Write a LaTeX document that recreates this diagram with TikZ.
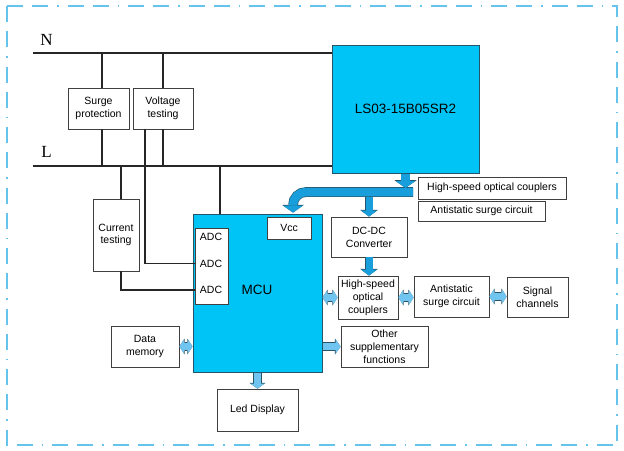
\documentclass[tikz,border=0pt]{standalone}
\usepackage{fontspec}
\setmainfont{Liberation Serif}
\setsansfont{Liberation Sans}
\usetikzlibrary{arrows.meta}
\definecolor{chipblue}{RGB}{0,196,245}
\definecolor{chipedge}{RGB}{38,84,104}
\definecolor{arrowblue}{RGB}{24,158,218}
\definecolor{pipeblue}{RGB}{112,196,240}
\definecolor{framecol}{RGB}{102,196,236}
\definecolor{wirecol}{RGB}{38,38,38}
\definecolor{boxcol}{RGB}{64,64,64}

\begin{document}
\begin{tikzpicture}[x=1pt,y=-1pt]
\useasboundingbox (0,0) rectangle (624,450);
\begin{scope}
	\tikzstyle{every node}=[align=center, inner sep=1pt, font=\sffamily\fontsize{10.5}{12.8}\selectfont]
	\tikzstyle{box}=[draw=boxcol, line width=0.8pt, fill=white]
	\tikzstyle{chip}=[draw=chipedge, line width=1pt, fill=chipblue, font=\sffamily\fontsize{13.5}{16}\selectfont]
	\tikzstyle{wire}=[line width=1.4pt, draw=wirecol]
	\tikzstyle{feed}=[line width=8.5pt, draw=arrowblue, -{Triangle[length=7pt,width=20pt,line width=0pt]}, preaction={draw=chipedge, line width=9.7pt, -{Triangle[length=7.8pt,width=22pt,line width=0pt]}}]
	\tikzstyle{drop}=[line width=7pt, draw=arrowblue, -{Triangle[length=6pt,width=16pt,line width=0pt]}, preaction={draw=chipedge, line width=8.2pt, -{Triangle[length=6.8pt,width=18pt,line width=0pt]}}]
	\tikzstyle{link}=[line width=7pt, draw=pipeblue, -{Triangle[length=5pt,width=14pt,line width=0pt]}, preaction={draw=chipedge, line width=8.2pt, -{Triangle[length=5.7pt,width=16pt,line width=0pt]}}]
	\tikzstyle{duplex}=[line width=7pt, draw=pipeblue, {Triangle[length=4.5pt,width=14pt,line width=0pt]}-{Triangle[length=4.5pt,width=14pt,line width=0pt]}, preaction={draw=chipedge, line width=8.2pt, {Triangle[length=5.2pt,width=16pt,line width=0pt]}-{Triangle[length=5.2pt,width=16pt,line width=0pt]}}]

	\draw[line width=2pt, draw=framecol, dash pattern=on 16pt off 9pt on 16pt off 9pt on 1.5pt off 9pt] (7,6) rectangle (617,445);

	\node[font=\rmfamily\fontsize{17}{19}\selectfont] (ntext) at (46.5,40) {N};
	\node[font=\rmfamily\fontsize{17}{19}\selectfont] (ltext) at (46.5,152) {L};
	\coordinate (n0) at (33,53);
	\coordinate (l0) at (33,166);

	\node[chip, minimum width=147pt, minimum height=128pt] (ls) at (405.5,109) {LS03-15B05SR2};
	\node[box, minimum width=61pt, minimum height=41pt] (surge) at (98.5,108.5) {Surge\\protection};
	\node[box, minimum width=60pt, minimum height=41pt] (volt) at (163,108.5) {Voltage\\testing};
	\node[box, minimum width=46pt, minimum height=72pt] (cur) at (116,235) {Current\\testing};

	\node[chip, minimum width=129pt, minimum height=158pt] (mcu) at (257.5,293) {};
	\node[font=\sffamily\fontsize{13.5}{16}\selectfont] (mcutext) at (257,289.5) {MCU};
	\node[box, minimum width=33pt, minimum height=76pt] (adcbox) at (211.5,266) {};
	\node (adc1) at (211,237) {ADC};
	\node (adc2) at (211,263.5) {ADC};
	\node (adc3) at (211,290) {ADC};
	\node[box, minimum width=44pt, minimum height=22pt] (vcc) at (289,228) {Vcc};

	\node[box, minimum width=68pt, minimum height=41pt] (mem) at (145,346.5) {Data\\memory};
	\node[box, minimum width=81pt, minimum height=42pt] (led) at (257.5,410) {Led Display};
	\node[box, minimum width=76pt, minimum height=40pt] (dcdc) at (369,237) {DC-DC\\Converter};
	\node[box, minimum width=60pt, minimum height=43pt] (opto) at (368,297.5) {High-speed\\optical\\couplers};
	\node[box, minimum width=75pt, minimum height=41pt] (esd) at (451.5,296.5) {Antistatic\\surge circuit};
	\node[box, minimum width=61pt, minimum height=40pt] (sig) at (537.5,297) {Signal\\channels};
	\node[box, minimum width=87pt, minimum height=41pt] (other) at (384.5,346.5) {Other\\supplementary\\functions};
	\node[box, minimum width=148pt, minimum height=22pt] (optotag) at (492,188) {High-speed optical couplers};
	\node[box, minimum width=127pt, minimum height=20pt] (esdtag) at (481.5,211) {Antistatic surge circuit};

	\draw[wire] (n0) -- (n0 -| ls.west);
	\draw[wire] (l0) -- (l0 -| ls.west);
	\draw[wire] ([xshift=3.5pt]surge.north) -- ([xshift=3.5pt]surge.north |- n0);
	\draw[wire] ([xshift=3.5pt]surge.south) -- ([xshift=3.5pt]surge.south |- l0);
	\draw[wire] (volt.north) -- (volt.north |- n0);
	\draw[wire] (volt.south) -- (volt.south |- l0);
	\draw[wire] ([xshift=-18pt]volt.south) |- (adcbox.west |- adc2);
	\draw[wire] ([xshift=5pt]cur.north) -- ([xshift=5pt]cur.north |- l0);
	\draw[wire] ([xshift=5pt]cur.south) |- (adcbox.west |- adc3);
	\draw[wire] ([xshift=-37.5pt]mcu.north) -- ([xshift=-37.5pt]mcu.north |- l0);

	\coordinate (bus) at (413,192);
	\draw[feed, rounded corners=13pt, shorten >=4pt] (bus) -| ([xshift=4pt]vcc.north);
	\draw[feed, shorten >=4pt] (ls.south) -- (ls.south |- bus);
	\draw[drop, shorten <=4.5pt] (dcdc.north |- bus) -- (dcdc.north);
	\draw[drop] (dcdc.south) -- (dcdc.south |- opto.north);

	\draw[duplex] (mcu.east |- opto.west) -- (opto.west);
	\draw[duplex] (opto.east) -- (opto.east -| esd.west);
	\draw[duplex] (esd.east) -- (esd.east -| sig.west);
	\draw[duplex] (mem.east) -- (mem.east -| mcu.west);
	\draw[link] (mcu.east |- other.west) -- (other.west);
	\draw[link] (mcu.south) -- (led.north);
\end{scope}
\end{tikzpicture}
\end{document}
